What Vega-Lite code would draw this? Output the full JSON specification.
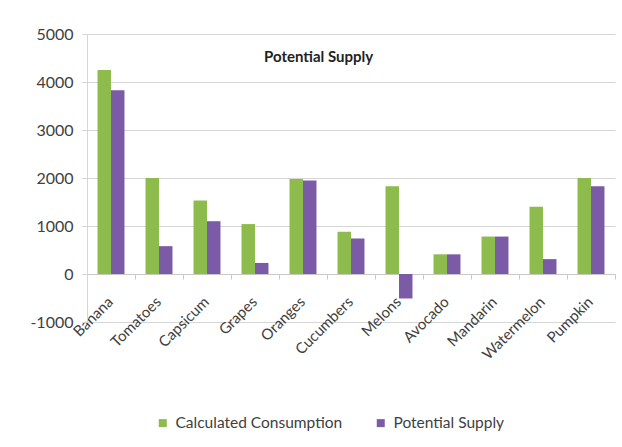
{
  "$schema": "https://vega.github.io/schema/vega-lite/v6.json",
  "autosize": {"type": "none"},
  "width": 528,
  "height": 288,
  "padding": {"left": 87, "top": 34, "right": 7, "bottom": 125},
  "background": "white",
  "config": {
    "view": {"stroke": null},
    "font": "Lato",
    "axis": {"labelFont": "Lato", "labelColor": "#404040"},
    "legend": {"labelFont": "Lato", "labelColor": "#404040"}
  },
  "title": {
    "text": "Potential Supply",
    "anchor": "start",
    "frame": "group",
    "dx": 177,
    "dy": 51,
    "offset": 0,
    "baseline": "alphabetic",
    "font": "Lato",
    "fontSize": 15,
    "fontWeight": "bold",
    "color": "#222222"
  },
  "data": {
    "values": [
      {"fruit": "Banana", "series": "Calculated Consumption", "value": 4250},
      {"fruit": "Banana", "series": "Potential Supply", "value": 3830},
      {"fruit": "Tomatoes", "series": "Calculated Consumption", "value": 2000},
      {"fruit": "Tomatoes", "series": "Potential Supply", "value": 580},
      {"fruit": "Capsicum", "series": "Calculated Consumption", "value": 1530},
      {"fruit": "Capsicum", "series": "Potential Supply", "value": 1100},
      {"fruit": "Grapes", "series": "Calculated Consumption", "value": 1040},
      {"fruit": "Grapes", "series": "Potential Supply", "value": 230},
      {"fruit": "Oranges", "series": "Calculated Consumption", "value": 1980},
      {"fruit": "Oranges", "series": "Potential Supply", "value": 1950},
      {"fruit": "Cucumbers", "series": "Calculated Consumption", "value": 880},
      {"fruit": "Cucumbers", "series": "Potential Supply", "value": 740},
      {"fruit": "Melons", "series": "Calculated Consumption", "value": 1830},
      {"fruit": "Melons", "series": "Potential Supply", "value": -510},
      {"fruit": "Avocado", "series": "Calculated Consumption", "value": 410},
      {"fruit": "Avocado", "series": "Potential Supply", "value": 410},
      {"fruit": "Mandarin", "series": "Calculated Consumption", "value": 780},
      {"fruit": "Mandarin", "series": "Potential Supply", "value": 780},
      {"fruit": "Watermelon", "series": "Calculated Consumption", "value": 1400},
      {"fruit": "Watermelon", "series": "Potential Supply", "value": 310},
      {"fruit": "Pumpkin", "series": "Calculated Consumption", "value": 2000},
      {"fruit": "Pumpkin", "series": "Potential Supply", "value": 1830}
    ]
  },
  "mark": {"type": "bar"},
  "encoding": {
    "x": {
      "field": "fruit",
      "type": "nominal",
      "sort": null,
      "scale": {"paddingInner": 0, "paddingOuter": 0},
      "axis": {
        "title": null,
        "orient": "bottom",
        "offset": -48,
        "labelAngle": -45,
        "labelFontSize": 15,
        "labelPadding": 15,
        "labelOffset": -6,
        "domain": true,
        "domainColor": "#c8c8c8",
        "ticks": true,
        "tickBand": "extent",
        "tickColor": "#c8c8c8",
        "tickSize": 5,
        "grid": false
      }
    },
    "xOffset": {
      "field": "series",
      "type": "nominal",
      "scale": {"paddingInner": 0, "paddingOuter": 0.78}
    },
    "y": {
      "field": "value",
      "type": "quantitative",
      "scale": {"domain": [-1000, 5000], "nice": false, "zero": false},
      "axis": {
        "title": null,
        "values": [-1000, 0, 1000, 2000, 3000, 4000, 5000],
        "labelExpr": "'' + datum.value",
        "labelFontSize": 16,
        "labelPadding": 9,
        "grid": true,
        "gridColor": "#d6d6d6",
        "domain": true,
        "domainColor": "#d6d6d6",
        "ticks": true,
        "tickColor": "#d6d6d6",
        "tickSize": 5
      }
    },
    "color": {
      "field": "series",
      "type": "nominal",
      "scale": {
        "domain": ["Calculated Consumption", "Potential Supply"],
        "range": ["#8dbb4c", "#7c5ba6"]
      },
      "legend": {
        "title": null,
        "orient": "none",
        "legendX": 68,
        "legendY": 381,
        "direction": "horizontal",
        "symbolType": "square",
        "symbolSize": 64,
        "symbolStrokeWidth": 0,
        "labelFontSize": 15.5,
        "labelLimit": 300,
        "labelOffset": 5,
        "columnPadding": 30
      }
    }
  }
}
